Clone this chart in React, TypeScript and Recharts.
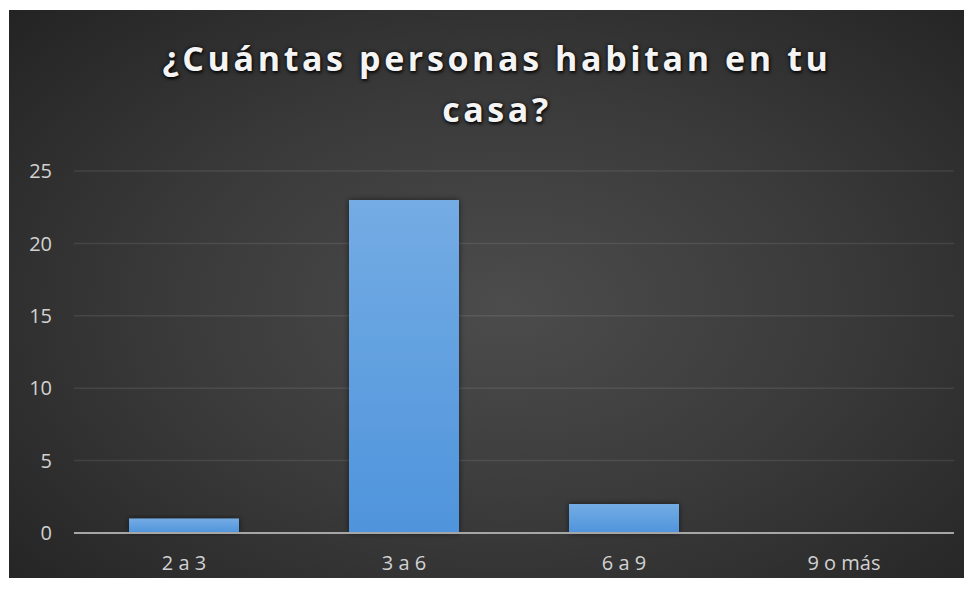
import React from "react";
import { BarChart, Bar, XAxis, YAxis, CartesianGrid } from "recharts";

const categories = ["2 a 3", "3 a 6", "6 a 9", "9 o más"];
const personas = [1, 23, 2, 0];
const yTicks = [0, 5, 10, 15, 20, 25];

const data = categories.map((c, i) => ({ rango: c, personas: personas[i] }));

const tickStyle = { fill: "#d2d2d2", fontSize: 20, fontFamily: "'Open Sans', sans-serif" };

export default function App() {
  return (
    <div
      style={{
        position: "relative",
        left: 1,
        top: 2,
        width: 956,
        height: 570,
        background: "radial-gradient(ellipse 70% 75% at 52% 52%, #4c4c4c 0%, #3a3a3a 50%, #242424 100%)",
        overflow: "hidden",
      }}
    >
      <div
        style={{
          position: "absolute",
          top: 23,
          left: 10,
          width: 956,
          textAlign: "center",
          color: "#f4f4f4",
          fontFamily: "'Open Sans', sans-serif",
          fontWeight: 700,
          fontSize: 34,
          letterSpacing: 3.6,
          lineHeight: "51px",
          textShadow: "0 0 4px rgba(0,0,0,0.8), 1px 2px 3px rgba(0,0,0,0.7)",
        }}
      >
        ¿Cuántas personas habitan en tu
        <br />
        casa?
      </div>
      <BarChart
        width={956}
        height={570}
        data={data}
        margin={{ top: 161, right: 11, left: 0, bottom: 7 }}
        barCategoryGap="25%"
        style={{ position: "absolute", top: 0, left: 0 }}
      >
        <defs>
          <linearGradient id="barFill" x1="0" y1="0" x2="0" y2="1">
            <stop offset="0%" stopColor="#74ace4" />
            <stop offset="100%" stopColor="#4f94dc" />
          </linearGradient>
          <filter id="barShadow" x="-20%" y="-20%" width="140%" height="140%">
            <feDropShadow dx="0" dy="0" stdDeviation="3" floodColor="#000" floodOpacity="0.55" />
          </filter>
        </defs>
        <CartesianGrid vertical={false} stroke="rgba(255,255,255,0.09)" strokeWidth={1.5} />
        <XAxis
          dataKey="rango"
          height={40}
          tick={tickStyle}
          tickLine={false}
          tickMargin={17}
          axisLine={{ stroke: "#a6a6a6", strokeWidth: 2 }}
        />
        <YAxis
          width={65}
          domain={[0, 25]}
          ticks={yTicks}
          tick={tickStyle}
          tickLine={false}
          tickMargin={16}
          axisLine={false}
        />
        <Bar
          dataKey="personas"
          fill="url(#barFill)"
          filter="url(#barShadow)"
          isAnimationActive={false}
        />
      </BarChart>
    </div>
  );
}
